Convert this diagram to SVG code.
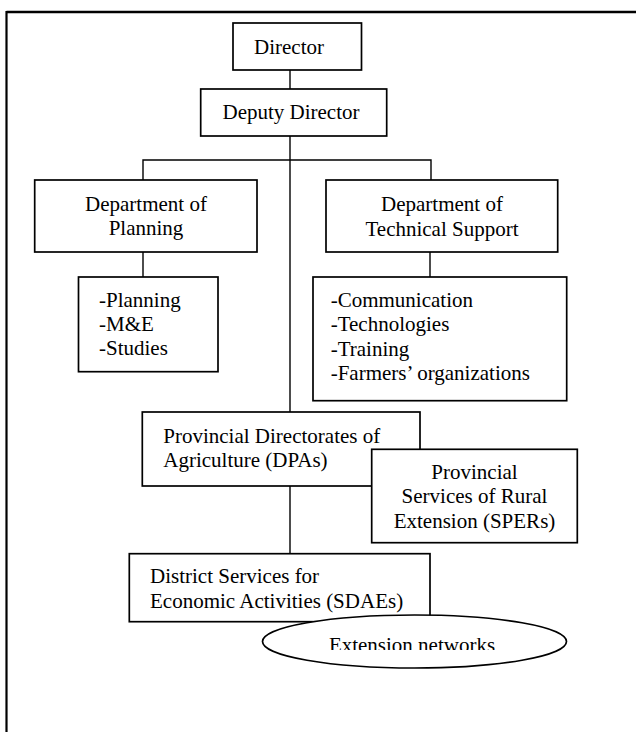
<svg xmlns="http://www.w3.org/2000/svg" width="636" height="732" viewBox="0 0 636 732">
<style>
.box{fill:#fff;stroke:#000;stroke-width:1.7}
.ln{stroke:#000;stroke-width:1.4;fill:none}
.c{text-anchor:middle}
</style>
<defs>
<clipPath id="clipExt"><rect x="250" y="600" width="340" height="50"/></clipPath>
</defs>
<rect width="636" height="732" fill="#fff"/>
<g id="frame">
<line x1="6.5" y1="12" x2="636" y2="12" stroke="#000" stroke-width="2.4"/>
<line x1="6.5" y1="11" x2="6.5" y2="732" stroke="#000" stroke-width="2.2"/>
</g>
<g id="connectors">
<line class="ln" x1="290" y1="70" x2="290" y2="89"/>
<line class="ln" x1="290" y1="136" x2="290" y2="412"/>
<polyline class="ln" points="143,180 143,160 431,160 431,180"/>
<line class="ln" x1="143" y1="252" x2="143" y2="277"/>
<line class="ln" x1="430" y1="252" x2="430" y2="277"/>
<line class="ln" x1="290" y1="486" x2="290" y2="554"/>
</g>
<g font-family="Liberation Serif, serif" font-size="21" fill="#000">
<g id="director">
<rect class="box" x="233" y="23" width="128.5" height="47"/>
<text x="289" y="54" class="c">Director</text>
</g>
<g id="deputy-director">
<rect class="box" x="200.7" y="89" width="186" height="47"/>
<text x="291" y="119.3" class="c">Deputy Director</text>
</g>
<g id="dept-planning">
<rect class="box" x="34.7" y="180" width="222.3" height="72"/>
<text x="146" y="210.7" class="c">Department of</text>
<text x="146" y="235" class="c">Planning</text>
</g>
<g id="dept-technical">
<rect class="box" x="326" y="180" width="231.7" height="72"/>
<text x="442" y="210.7" class="c">Department of</text>
<text x="442" y="236" class="c">Technical Support</text>
</g>
<g id="planning-units">
<rect class="box" x="78.5" y="277" width="139.5" height="94.7"/>
<text x="99" y="306.7">-Planning</text>
<text x="99" y="331">-M&amp;E</text>
<text x="99" y="355">-Studies</text>
</g>
<g id="technical-units">
<rect class="box" x="313" y="277" width="253.7" height="123.7"/>
<text x="330.7" y="306.7">-Communication</text>
<text x="330.7" y="331.2">-Technologies</text>
<text x="330.7" y="355.5">-Training</text>
<text x="330.7" y="380">-Farmers’ organizations</text>
</g>
<g id="dpa">
<rect class="box" x="142.3" y="412" width="277.7" height="74"/>
<text x="163.3" y="442.7">Provincial Directorates of</text>
<text x="163.3" y="467">Agriculture (DPAs)</text>
</g>
<g id="sper">
<rect class="box" x="371.7" y="449.3" width="205.6" height="93.4"/>
<text x="474.5" y="479" class="c">Provincial</text>
<text x="474.5" y="503.3" class="c">Services of Rural</text>
<text x="474.5" y="527.7" class="c">Extension (SPERs)</text>
</g>
<g id="sdae">
<rect class="box" x="129.3" y="553.7" width="300.7" height="68"/>
<text x="150" y="583">District Services for</text>
<text x="150" y="607.7">Economic Activities (SDAEs)</text>
</g>
<g id="extension-networks">
<ellipse class="box" cx="414.5" cy="641.5" rx="152" ry="26.5"/>
<text x="412" y="652" class="c" clip-path="url(#clipExt)">Extension networks</text>
</g>
</g>
</svg>
